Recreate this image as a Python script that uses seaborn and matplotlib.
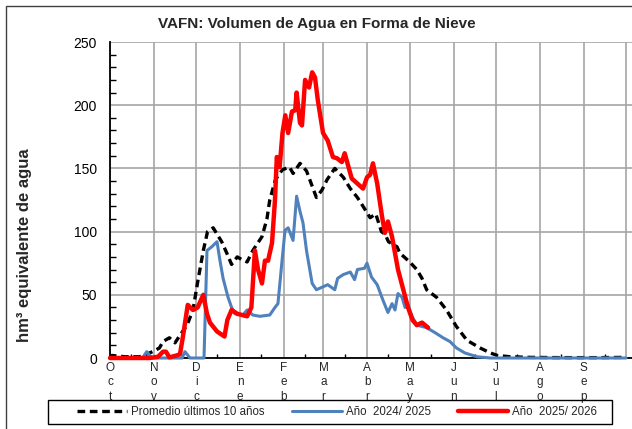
import matplotlib
matplotlib.use("Agg")
import matplotlib.pyplot as plt
import pandas as pd
import seaborn as sns
from matplotlib.patches import Rectangle

# Meses del año hidrológico (día 0 = 1 de octubre)
meses = ["Oct", "Nov", "Dic", "Ene", "Feb", "Mar", "Abr", "May", "Jun", "Jul", "Ago", "Sep"]
inicio_mes = [0, 31, 61, 92, 123, 151, 182, 212, 243, 273, 304, 335]

# Promedio últimos 10 años
dias_prom = [0, 1.4, 10.6, 21, 28, 32, 35, 37.5, 42, 46, 49.5, 54.5, 58.7, 62, 66, 69, 73, 75.7,
             79, 83, 86, 90, 93, 97, 101, 107.5, 111, 113, 117, 120, 122, 127, 129.5, 134.4,
             139, 143, 146, 150, 153.5, 159, 165, 170, 175, 179, 184, 188, 192, 194.5, 197,
             203, 205, 212, 217, 220.7, 224, 231, 238, 245, 252.5, 261.7, 269, 274, 283, 297,
             318, 346.6, 365]
vol_prom = [0, 2, 1, 1, 4, 6, 8, 13, 16, 12, 18, 26, 38, 60, 85, 100, 103, 98,
            92, 82, 74, 80, 78, 76, 85, 96, 110, 125, 141, 146, 149, 151, 146, 154,
            148, 136, 127, 133, 141, 150, 143, 134, 127, 120, 111, 114, 100, 98, 92,
            88, 83, 76, 70, 63, 54, 48, 38, 25, 14, 8, 4, 2, 1, 0.5,
            0.3, 0.3, 0.5]

# Año 2024/ 2025
dias_2425 = [0, 23, 26, 29.7, 51, 53, 56.6, 66.5, 68.6, 72, 75.7, 77.8, 80, 83.5, 86, 88.4,
             94, 97, 101, 106, 113, 116.7, 118.8, 121.7, 123.8, 126, 129.5, 132, 134.4,
             136.5, 139, 143, 146, 150, 154, 159, 161, 165, 170, 173, 175, 180, 181.8, 185,
             189, 193, 196.6, 199.5, 201.6, 203.7, 206.6, 208.7, 210.8, 213.6, 217, 224,
             230, 235.6, 240.5, 245, 251, 259.6, 269, 365]
vol_2425 = [0, 0, 5, 0, 0, 5, 0, 0, 85, 88, 92, 77, 63, 48, 40, 35,
            34, 38, 34, 33, 34, 40, 43, 77, 101, 103, 93, 128, 116,
            107, 85, 59, 54, 56, 58, 54, 63, 66, 68, 62, 70, 71, 75, 64,
            58, 46, 36, 43, 38, 51, 48, 40, 42, 33, 26, 24,
            20, 16, 13, 8, 4, 1, 0, 0]

# Año 2025/ 2026
dias_2526 = [0, 28, 34, 37.5, 39.6, 42, 47, 49.5, 51.6, 55, 58.7, 62, 66, 68.6, 70.7, 75.7,
             81, 83, 86, 90, 97, 100, 102.5, 104.7, 107.5, 109.6, 111.8, 114.6, 116.7, 118,
             120, 122, 124, 126, 128.7, 131, 132, 134.4, 135.8, 138, 140.8, 143, 145, 147,
             150.7, 154, 157.7, 160.6, 164, 166, 168, 171, 175, 179, 181.8, 184, 186, 189,
             192.4, 194.5, 196.6, 199.5, 203.7, 207, 210.8, 214, 217, 220.7, 225]
vol_2526 = [0, 0, 1, 5, 5, 0.5, 2, 3, 17, 42, 38, 40, 50, 35, 28, 21,
            17, 30, 38, 35, 33, 40, 85, 70, 59, 77, 77, 91, 125, 159,
            151, 178, 192, 178, 195, 196, 210, 186, 184, 220, 214, 226, 222, 204,
            178, 172, 159, 158, 155, 162, 154, 142, 138, 134, 143, 145, 154, 138,
            112, 99, 108, 96, 70, 56, 40, 30, 26, 28, 24]

etiquetas = ["Promedio últimos 10 años", "Año  2024/ 2025", "Año  2025/ 2026"]

sns.set_style("white")
plt.rcParams["font.family"] = ["Liberation Sans", "DejaVu Sans"]

fig = plt.figure(figsize=(6.32, 4.29), dpi=100)
ax = fig.add_axes([110 / 632, 71 / 429, 522 / 632, 316 / 429])

df_prom = pd.DataFrame({"dia": dias_prom, "hm3": vol_prom})
df_2425 = pd.DataFrame({"dia": dias_2425, "hm3": vol_2425})
df_2526 = pd.DataFrame({"dia": dias_2526, "hm3": vol_2526})

sns.lineplot(data=df_prom, x="dia", y="hm3", ax=ax, color="black", lw=2.4,
             linestyle=(0, (2.3, 1.4)), label=etiquetas[0], clip_on=False, zorder=3,
             errorbar=None, sort=False)
sns.lineplot(data=df_2425, x="dia", y="hm3", ax=ax, color="#4F81BD", lw=2.2,
             label=etiquetas[1], clip_on=False, zorder=4, errorbar=None, sort=False)
sns.lineplot(data=df_2526, x="dia", y="hm3", ax=ax, color="#FF0000", lw=3.2,
             label=etiquetas[2], clip_on=False, zorder=5, errorbar=None, sort=False)

ax.set_xlim(0, 365 * 522 / 516)
ax.set_ylim(0, 250)
ax.set_xticks(inicio_mes + [365])
ax.set_xticklabels(["\n".join(m) for m in meses] + [""], fontsize=8.5, linespacing=1.25)
ax.set_xticks([d + 15 for d in inicio_mes], minor=True)
ax.set_yticks(range(0, 251, 50))
ax.set_yticks(range(0, 251, 10), minor=True)
ax.tick_params(axis="y", which="major", direction="inout", length=7, width=1, colors="black",
               labelsize=10, pad=6)
ax.tick_params(axis="y", which="minor", direction="in", length=4, width=1, color="black", left=True)
ax.tick_params(axis="x", which="major", direction="in", length=0, labelsize=8.5, pad=3)
ax.tick_params(axis="x", which="minor", direction="in", length=3, width=1, color="black", bottom=True)
ax.set_xlabel("")
ax.set_ylabel("")
ax.grid(True, which="major", color="#a6a6a6", lw=1.2)
ax.set_axisbelow(True)
for s in ["top", "right"]:
    ax.spines[s].set_visible(False)
for s in ["left", "bottom"]:
    ax.spines[s].set_color("black")
    ax.spines[s].set_linewidth(1.3)
    ax.spines[s].set_zorder(2)

# Leyenda: sin marco propio, repartida entre x=77 y x=597 px; el marco se dibuja aparte
handles, labels = ax.get_legend_handles_labels()
ax.get_legend().remove()
fig.legend(handles, labels, loc="center", ncol=3, mode="expand",
           bbox_to_anchor=(77 / 632, 5 / 429, 520 / 632, 24 / 429), borderaxespad=0,
           borderpad=0, fontsize=8.3, handlelength=4.3, frameon=False, handletextpad=0.35)
fig.add_artist(Rectangle((48 / 632, 5 / 429), 564 / 632, 24 / 429, transform=fig.transFigure,
                         fill=False, edgecolor="black", lw=1))

fig.text(317 / 632, 1 - 24 / 429, "VAFN: Volumen de Agua en Forma de Nieve",
         ha="center", va="center", fontsize=11, fontweight="bold")
fig.text(25 / 632, 1 - 245 / 429, "hm³ equivalente de agua", rotation=90,
         ha="center", va="center", fontsize=12, fontweight="bold")

fig.add_artist(Rectangle((6 / 632, -0.1), 1.2, 1 - 6 / 429 + 0.1, transform=fig.transFigure,
                         fill=False, edgecolor="#404040", lw=1))

fig.savefig("out.png", dpi=100)
